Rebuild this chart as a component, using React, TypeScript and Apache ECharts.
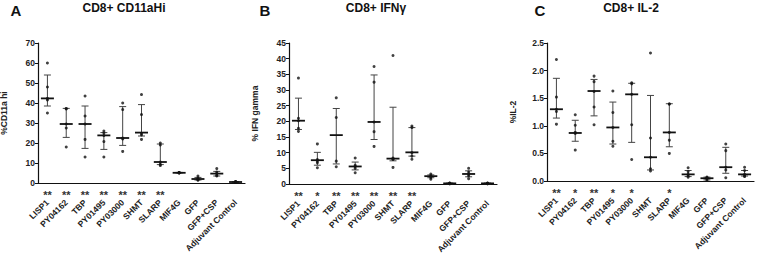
import React, { useEffect, useRef } from "react";
import * as echarts from "echarts";

const categories = ["LISP1", "PY04162", "TBP", "PY01495", "PY03000", "SHMT", "SLARP", "MIF4G", "GFP", "GFP+CSP", "Adjuvant Control"];

// Panel A: CD8+ CD11aHi
const cd11aPoints = [
  [60, 48, 42.3, 41.5, 35],
  [37.3, 37, 29.5, 27.5, 18],
  [43.5, 33.5, 29.5, 21.8, 13],
  [26, 25, 23.7, 20.7, 13],
  [40, 36.7, 22.5, 22, 15.8],
  [44.2, 34.2, 24.8, 24, 21.8],
  [20, 19, 10.5, 9.3, 8.7],
  [5.3, 5.2, 5.1, 5.0, 5.0],
  [3.5, 2.5, 2, 1.6, 1.4],
  [7.2, 5.5, 4.7, 3.8, 3.5],
  [0.8, 0.6, 0.5, 0.4, 0.3],
];
const cd11aMedian = [42.3, 29.5, 29.5, 23.8, 22.5, 25.2, 10.5, 5.1, 2, 4.7, 0.5];
const cd11aLow = [38.5, 22.8, 17.3, 16.8, 18.8, 23.5, 9.2, 5.0, 1.5, 3.5, 0.35];
const cd11aHigh = [54, 37.3, 38.5, 25.2, 38.2, 39.2, 19.5, 5.3, 2.8, 5.8, 0.7];
const cd11aStars = ["**", "**", "**", "**", "**", "**", "**", "", "", "", ""];

// Panel B: CD8+ IFNγ
const ifngPoints = [
  [33.8, 21, 20.2, 17.8, 16.8],
  [12.8, 7.8, 7.3, 6.8, 5.2],
  [27.5, 21.2, 7.3, 5.5],
  [8.3, 6.0, 5.6, 5.0, 3.6],
  [37.5, 32.5, 19.8, 16.7, 12],
  [41, 8.3, 8.0, 7.8, 5.3],
  [18.5, 18, 10, 8.9, 7.9],
  [3.2, 2.6, 2.4, 2.0, 1.5],
  [0.3, 0.2, 0.2, 0.1, 0.1],
  [5.0, 3.8, 3.1, 2.6, 1.7],
  [0.3, 0.2, 0.2, 0.1, 0.1],
];
const ifngMedian = [20.2, 7.6, 15.6, 5.6, 19.8, 8.1, 10.1, 2.5, 0.2, 3.2, 0.2];
const ifngLow = [17.4, 6.0, 6.4, 4.5, 14.2, 7.4, 8.9, 2.0, 0.1, 2.3, 0.1];
const ifngHigh = [27.4, 10.1, 24.1, 7.0, 34.8, 24.5, 18, 2.9, 0.3, 4.2, 0.3];
const ifngStars = ["**", "*", "**", "**", "**", "**", "**", "", "", "", ""];

// Panel C: CD8+ IL-2
const il2Points = [
  [2.2, 1.52, 1.3, 1.26, 1.03],
  [1.2, 1.01, 0.88, 0.86, 0.56],
  [1.9, 1.8, 1.62, 1.34, 1.02],
  [1.63, 1.24, 0.97, 0.72, 0.63],
  [1.78, 1.76, 1.57, 1.02, 0.39],
  [2.32, 0.78, 0.43, 0.22, 0.18],
  [1.4, 1.39, 0.88, 0.74, 0.5],
  [0.24, 0.17, 0.12, 0.09, 0.07],
  [0.07, 0.06, 0.05, 0.03, 0.01],
  [0.67, 0.55, 0.25, 0.2, 0.06],
  [0.25, 0.19, 0.12, 0.09, 0.08],
];
const il2Median = [1.3, 0.87, 1.63, 0.97, 1.57, 0.43, 0.88, 0.12, 0.05, 0.25, 0.12];
const il2Low = [1.14, 0.72, 1.18, 0.67, 0.7, 0.2, 0.62, 0.08, 0.02, 0.14, 0.09];
const il2High = [1.86, 1.1, 1.84, 1.43, 1.77, 1.55, 1.4, 0.19, 0.07, 0.61, 0.19];
const il2Stars = ["**", "*", "**", "*", "*", "", "*", "", "", "", ""];

const panelLetters = ["A", "B", "C"];
const panelTitles = ["CD8+ CD11aHi", "CD8+ IFN\u03b3", "CD8+ IL-2"];
const yNames = ["%CD11a hi", "% IFN gamma", "%IL-2"];
const yMax = [70, 45, 2.5];
const yInterval = [10, 5, 0.5];

const FONT = "'Liberation Sans', Arial, sans-serif";

const grids = [
  { left: 38, top: 43, width: 207, height: 140 },
  { left: 289, top: 43, width: 208, height: 141 },
  { left: 547, top: 43, width: 207, height: 138 },
];
const titleX = [124, 376, 631];
const letterX = [16, 265, 540];

export default function App() {
  const ref = useRef<HTMLDivElement>(null);
  useEffect(() => {
    if (!ref.current) return;
    const chart = echarts.init(ref.current, null, { renderer: "svg" });
    const panels = [
      { pts: cd11aPoints, med: cd11aMedian, lo: cd11aLow, hi: cd11aHigh, stars: cd11aStars },
      { pts: ifngPoints, med: ifngMedian, lo: ifngLow, hi: ifngHigh, stars: ifngStars },
      { pts: il2Points, med: il2Median, lo: il2Low, hi: il2High, stars: il2Stars },
    ];
    const series: any[] = [];
    panels.forEach((p, k) => {
      const scatterData: number[][] = [];
      p.pts.forEach((arr, i) => arr.forEach((v) => scatterData.push([i, v])));
      series.push({
        type: "scatter",
        xAxisIndex: k,
        yAxisIndex: k,
        data: scatterData,
        symbol: "circle",
        symbolSize: 3,
        itemStyle: { color: "#111" },
        z: 3,
      });
      series.push({
        type: "custom",
        xAxisIndex: k,
        yAxisIndex: k,
        data: p.med.map((m, i) => [i, m, p.lo[i], p.hi[i]]),
        encode: { x: 0, y: [1, 2, 3] },
        z: 2,
        renderItem: (params: any, api: any) => {
          const i = api.value(0);
          const pm = api.coord([i, api.value(1)]);
          const pl = api.coord([i, api.value(2)]);
          const ph = api.coord([i, api.value(3)]);
          const x = pm[0];
          const st = { stroke: "#444", lineWidth: 1 };
          return {
            type: "group",
            children: [
              { type: "line", shape: { x1: x, y1: pl[1], x2: x, y2: ph[1] }, style: st },
              { type: "line", shape: { x1: x - 3.5, y1: pl[1], x2: x + 3.5, y2: pl[1] }, style: st },
              { type: "line", shape: { x1: x - 3.5, y1: ph[1], x2: x + 3.5, y2: ph[1] }, style: st },
              { type: "line", shape: { x1: x - 6.5, y1: pm[1], x2: x + 6.5, y2: pm[1] }, style: { stroke: "#111", lineWidth: 1.8 } },
            ],
          };
        },
      });
      series.push({
        type: "custom",
        xAxisIndex: k,
        yAxisIndex: k,
        data: p.stars.map((s, i) => [i, 0]),
        encode: { x: 0, y: 1 },
        clip: false,
        renderItem: (params: any, api: any) => {
          const i = api.value(0);
          const c = api.coord([i, 0]);
          return {
            type: "text",
            x: c[0],
            y: c[1] + 12,
            style: {
              text: p.stars[i],
              align: "center",
              verticalAlign: "middle",
              font: "bold 11px " + FONT,
              fill: "#333",
            },
          };
        },
      });
    });

    const graphic: any[] = [];
    [0, 1, 2].forEach((k) => {
      graphic.push({
        type: "text",
        x: letterX[k],
        y: 10,
        style: { text: panelLetters[k], align: "center", verticalAlign: "middle", font: "bold 15px " + FONT, fill: "#111" },
      });
      graphic.push({
        type: "text",
        x: titleX[k],
        y: 8,
        style: { text: panelTitles[k], align: "center", verticalAlign: "middle", font: "bold 12px " + FONT, fill: "#111" },
      });
    });

    chart.setOption({
      animation: false,
      backgroundColor: "#fff",
      grid: grids.map((g) => ({ ...g, containLabel: false, outerBoundsMode: "none" })),
      graphic,
      xAxis: grids.map((g, k) => ({
        type: "category",
        gridIndex: k,
        data: categories,
        boundaryGap: true,
        axisLine: { lineStyle: { color: "#111", width: 1.2 } },
        axisTick: { alignWithLabel: true, length: 3, lineStyle: { color: "#111" } },
        axisLabel: {
          rotate: 45,
          interval: 0,
          margin: 18,
          fontSize: 8.5,
          fontWeight: "bold",
          fontFamily: FONT,
          color: "#222",
        },
      })),
      yAxis: grids.map((g, k) => ({
        type: "value",
        gridIndex: k,
        min: 0,
        max: yMax[k],
        interval: yInterval[k],
        name: yNames[k],
        nameLocation: "middle",
        nameGap: 30,
        nameTextStyle: { fontSize: 8.5, fontWeight: "bold", fontFamily: FONT, color: "#222" },
        splitLine: { show: false },
        axisLine: { show: true, lineStyle: { color: "#111", width: 1.2 } },
        axisTick: { show: true, length: 3, lineStyle: { color: "#111" } },
        axisLabel: {
          fontSize: 8.5,
          fontWeight: "bold",
          fontFamily: FONT,
          color: "#222",
          margin: 3,
          formatter: (v: number) => (k === 2 ? v.toFixed(1) : String(v)),
        },
      })),
      series,
    });
    return () => chart.dispose();
  }, []);
  return (
    <div
      ref={ref}
      style={{ position: "fixed", left: 0, top: 0, width: 760, height: 256, background: "#fff" }}
    />
  );
}
